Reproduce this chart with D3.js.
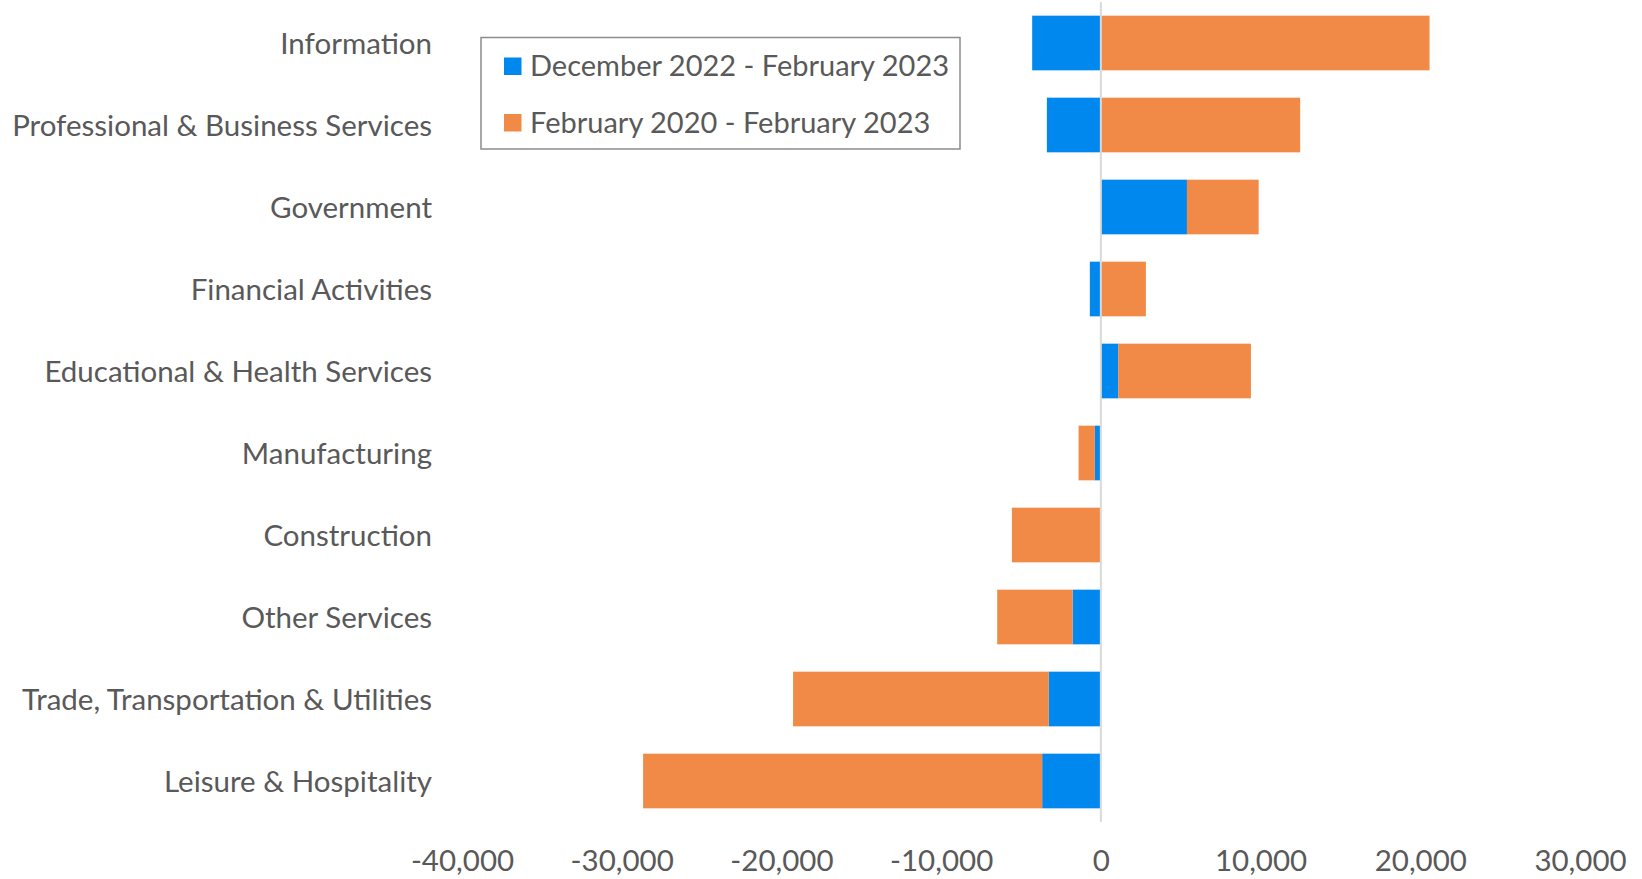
<!DOCTYPE html>
<html>
<head>
<meta charset="utf-8">
<script src="https://cdn.jsdelivr.net/npm/d3@7"></script>
<style>
  body { margin: 0; background: #fff; }
  text { font-family: Lato, "Open Sans", sans-serif; fill: #595959; }
</style>
</head>
<body>
<div id="chart"></div>
<script>
// categories, top to bottom
var categories = [
  "Information",
  "Professional & Business Services",
  "Government",
  "Financial Activities",
  "Educational & Health Services",
  "Manufacturing",
  "Construction",
  "Other Services",
  "Trade, Transportation & Utilities",
  "Leisure & Hospitality"
];

// series values (stacked segments)
var decFeb = [-4300, -3380, 5390, -690, 1085, -375, 0, -1770, -3260, -3675];
var febFeb = [20580, 12480, 4490, 2820, 8310, -1020, -5570, -4720, -16010, -24985];

var seriesNames = ["December 2022 - February 2023", "February 2020 - February 2023"];
var colors = ["#0088ee", "#f08a46"];
var xTicks = [-40000, -30000, -20000, -10000, 0, 10000, 20000, 30000];

var svgWidth = 1642, svgHeight = 879;
var fontSize = 29.5;

var svg = d3.select("#chart")
  .append("svg")
  .attr("width", svgWidth)
  .attr("height", svgHeight);

// build rows for d3.stack
var rows = categories.map(function(c, i) {
  return { cat: c, s0: decFeb[i], s1: febFeb[i] };
});

var stack = d3.stack()
  .keys(["s0", "s1"])
  .offset(d3.stackOffsetDiverging);
var stacked = stack(rows);

var x = d3.scaleLinear()
  .domain([-40000, 30000])
  .range([462, 1580]);

var y = d3.scaleBand()
  .domain(categories)
  .range([2, 822])
  .paddingInner(1 / 3)
  .paddingOuter(1 / 6);

// bars
svg.append("g")
  .selectAll("g")
  .data(stacked)
  .enter()
  .append("g")
  .attr("fill", function(d, i) { return colors[i]; })
  .selectAll("rect")
  .data(function(d) { return d; })
  .enter()
  .append("rect")
  .attr("x", function(d) { return x(Math.min(d[0], d[1])); })
  .attr("width", function(d) { return Math.abs(x(d[1]) - x(d[0])); })
  .attr("y", function(d) { return y(d.data.cat); })
  .attr("height", y.bandwidth());

// zero line
svg.append("line")
  .attr("x1", x(0)).attr("x2", x(0))
  .attr("y1", 2).attr("y2", 822)
  .attr("stroke", "#d9d9d9")
  .attr("stroke-width", 2);

// bottom axis, labels only (plain hyphen for negatives)
var fmt = d3.format(",");
var xAxis = svg.append("g")
  .attr("transform", "translate(0, 822)")
  .call(d3.axisBottom(x)
    .tickValues(xTicks)
    .tickSize(0)
    .tickPadding(28)
    .tickFormat(function(d) { return fmt(d).replace("\u2212", "-"); }));
xAxis.select(".domain").remove();
xAxis.selectAll("text")
  .style("font-size", fontSize + "px")
  .attr("fill", "#595959");

// category labels
var yAxis = svg.append("g")
  .attr("transform", "translate(432, 0)")
  .call(d3.axisLeft(y).tickSize(0).tickPadding(0));
yAxis.select(".domain").remove();
yAxis.selectAll("text")
  .style("font-size", fontSize + "px")
  .attr("fill", "#595959")
  .attr("dy", "0.36em");

// legend
var legend = svg.append("g");
legend.append("rect")
  .attr("x", 481).attr("y", 37.5)
  .attr("width", 479).attr("height", 111.5)
  .attr("fill", "#fff")
  .attr("stroke", "#8c8c8c")
  .attr("stroke-width", 1.5);

seriesNames.forEach(function(name, i) {
  var cy = 66 + i * 56.5;
  legend.append("rect")
    .attr("x", 504).attr("y", cy - 8.5)
    .attr("width", 17.5).attr("height", 17.5)
    .attr("fill", colors[i]);
  legend.append("text")
    .attr("x", 530)
    .attr("y", cy)
    .attr("dy", "0.36em")
    .style("font-size", "29px")
    .text(name);
});
</script>
</body>
</html>
